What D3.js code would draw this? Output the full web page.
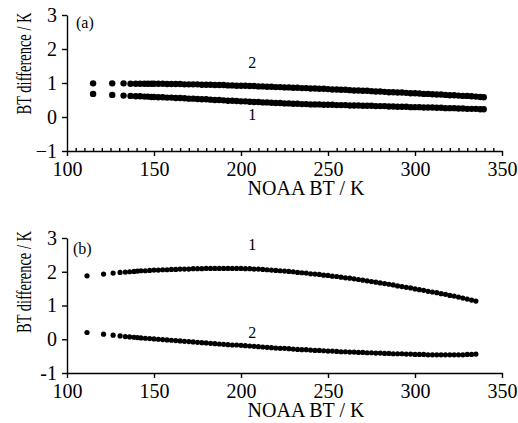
<!DOCTYPE html>
<html>
<head>
<meta charset="utf-8">
<script src="https://cdn.jsdelivr.net/npm/d3@7"></script>
<style>
body { margin: 0; background: #fff; }
svg text { font-family: "Liberation Serif", "Times New Roman", serif; fill: #000; }
</style>
</head>
<body>
<svg id="chart" width="518" height="423"></svg>
<script>
// axis ticks
var xTicks = [100, 150, 200, 250, 300, 350];
var yTicks = [-1, 0, 1, 2, 3];

// panel (a): NOAA BT (K) and BT difference (K) for curves 1 and 2
var xA = [115, 126, 132.5, 136.5, 139.5, 142, 144.5, 146.5, 148.5,
    150, 152.5, 155, 157.5, 160, 162.5, 165, 167.5, 170, 172.5, 175, 177.5, 180, 182.5, 185, 187.5, 190, 192.5, 195, 197.5, 200,
    202.5, 205, 207.5, 210, 212.5, 215, 217.5, 220, 222.5, 225,
    227.5, 230, 232.5, 235, 237.5, 240, 242.5, 245, 247.5, 250,
    252.5, 255, 257.5, 260, 262.5, 265, 267.5, 270, 272.5, 275,
    277.5, 280, 282.5, 285, 287.5, 290, 292.5, 295, 297.5, 300,
    302.5, 305, 307.5, 310, 312.5, 315, 317.5, 320, 322.5, 325, 327.5, 330, 332.5, 335, 337.5, 339.5];
var a1 = [0.68, 0.65, 0.63, 0.62, 0.61, 0.61, 0.60, 0.60, 0.59,
    0.59, 0.58, 0.58, 0.57, 0.57, 0.56, 0.56, 0.55, 0.54, 0.54, 0.53, 0.52, 0.52, 0.51, 0.50, 0.50, 0.49, 0.48, 0.48, 0.47, 0.46,
    0.46, 0.45, 0.44, 0.44, 0.43, 0.43, 0.42, 0.41, 0.41, 0.40,
    0.40, 0.39, 0.39, 0.38, 0.38, 0.37, 0.37, 0.37, 0.36, 0.36,
    0.36, 0.35, 0.35, 0.35, 0.34, 0.34, 0.34, 0.33, 0.33, 0.33,
    0.32, 0.32, 0.32, 0.31, 0.31, 0.30, 0.30, 0.30, 0.29, 0.29,
    0.29, 0.28, 0.28, 0.28, 0.27, 0.27, 0.26, 0.26, 0.26, 0.25, 0.25, 0.24, 0.24, 0.24, 0.23, 0.23];
var a2 = [0.99, 0.99, 0.99, 0.98, 0.98, 0.98, 0.98, 0.98, 0.98,
    0.98, 0.98, 0.98, 0.97, 0.97, 0.97, 0.97, 0.96, 0.96, 0.96, 0.96, 0.95, 0.95, 0.95, 0.94, 0.94, 0.94, 0.93, 0.93, 0.92, 0.92,
    0.92, 0.91, 0.91, 0.90, 0.90, 0.89, 0.89, 0.88, 0.88, 0.87,
    0.87, 0.86, 0.86, 0.85, 0.85, 0.84, 0.84, 0.83, 0.83, 0.82,
    0.81, 0.81, 0.80, 0.80, 0.79, 0.78, 0.78, 0.77, 0.77, 0.76,
    0.75, 0.75, 0.74, 0.73, 0.73, 0.72, 0.72, 0.71, 0.70, 0.70,
    0.69, 0.68, 0.68, 0.67, 0.66, 0.66, 0.65, 0.64, 0.64, 0.63, 0.62, 0.62, 0.61, 0.60, 0.59, 0.58];

// panel (b)
var xB = [111.5, 121, 126.5, 130.5, 133.5, 136, 138.5, 140.5,
    142.5, 145, 147.5, 150, 152.5, 155, 157.5, 160, 162.5, 165, 167.5, 170, 172.5, 175, 177.5, 180, 182.5, 185, 187.5, 190, 192.5, 195, 197.5, 200,
    202.5, 205, 207.5, 210, 212.5, 215, 217.5, 220, 222.5, 225,
    227.5, 230, 232.5, 235, 237.5, 240, 242.5, 245, 247.5, 250,
    252.5, 255, 257.5, 260, 262.5, 265, 267.5, 270, 272.5, 275,
    277.5, 280, 282.5, 285, 287.5, 290, 292.5, 295, 297.5, 300,
    302.5, 305, 307.5, 310, 312.5, 315, 317.5, 320, 322.5, 325,
    327.5, 330, 332.5, 335];
var b1 = [1.88, 1.93, 1.96, 1.98, 1.99, 2.00, 2.01, 2.02,
    2.03, 2.03, 2.04, 2.05, 2.05, 2.06, 2.06, 2.07, 2.07, 2.08, 2.08, 2.08, 2.09, 2.09, 2.09, 2.10, 2.10, 2.10, 2.10, 2.10, 2.10, 2.10, 2.10, 2.10,
    2.09, 2.09, 2.08, 2.08, 2.07, 2.06, 2.05, 2.04, 2.03, 2.02,
    2.01, 2.00, 1.98, 1.97, 1.96, 1.94, 1.93, 1.92, 1.90, 1.89,
    1.87, 1.86, 1.84, 1.82, 1.81, 1.79, 1.77, 1.75, 1.73, 1.71,
    1.69, 1.67, 1.65, 1.63, 1.61, 1.58, 1.56, 1.54, 1.52, 1.49,
    1.47, 1.45, 1.42, 1.40, 1.38, 1.35, 1.33, 1.30, 1.28, 1.25,
    1.22, 1.19, 1.16, 1.13];
var b2 = [0.20, 0.15, 0.12, 0.10, 0.08, 0.07, 0.06, 0.05,
    0.04, 0.03, 0.02, 0.01, 0.00, -0.01, -0.02, -0.03, -0.04, -0.05, -0.06, -0.07, -0.08, -0.09, -0.10, -0.11, -0.12, -0.13, -0.14, -0.15, -0.16, -0.17, -0.17, -0.18,
    -0.19, -0.20, -0.21, -0.22, -0.23, -0.24, -0.25, -0.26, -0.27, -0.27,
    -0.28, -0.29, -0.30, -0.31, -0.31, -0.32, -0.33, -0.33, -0.34, -0.35,
    -0.35, -0.36, -0.37, -0.37, -0.38, -0.38, -0.39, -0.39, -0.40, -0.40,
    -0.41, -0.41, -0.42, -0.42, -0.43, -0.43, -0.43, -0.44, -0.44, -0.45,
    -0.45, -0.45, -0.46, -0.46, -0.46, -0.46, -0.46, -0.46, -0.46, -0.46,
    -0.46, -0.45, -0.45, -0.44];

var svg = d3.select("#chart");

var panels = [
    {
        tag: "(a)", tagPos: [76, 28], top: 15, bottom: 151, r: 3.2, minor: true, minus: "\u22121",
        x: xA, series: [a1, a2],
        names: [{text: "1", at: [206.5, -0.1]}, {text: "2", at: [206.5, 1.43]}],
        yLabelCenter: 63.5
    },
    {
        tag: "(b)", tagPos: [73, 254], top: 238, bottom: 373, r: 2.6, minor: false, minus: "-1",
        x: xB, series: [b1, b2],
        names: [{text: "1", at: [206.5, 2.64]}, {text: "2", at: [206.5, 0.04]}],
        yLabelCenter: 282
    }
];

panels.forEach(function (p) {
    var x = d3.scaleLinear().domain([100, 350]).range([67, 502]),
        y = d3.scaleLinear().domain([-1, 3]).range([p.bottom, p.top]),
        g = svg.append("g");

    // x axis, outward major ticks
    var xAxis = g.append("g")
        .attr("transform", "translate(0," + p.bottom + ")")
        .call(d3.axisBottom(x).tickValues(xTicks).tickSize(5).tickSizeOuter(0).tickPadding(6));
    if (p.minor) {
        g.append("g")
            .attr("transform", "translate(0," + p.bottom + ")")
            .call(d3.axisBottom(x)
                .tickValues(d3.range(105, 350, 5).filter(function (v) { return v % 50 !== 0; }))
                .tickSize(-3).tickSizeOuter(0).tickFormat(""))
            .call(function (s) { s.select(".domain").remove(); });
    }

    var yAxis = g.append("g")
        .attr("transform", "translate(67,0)")
        .call(d3.axisLeft(y).tickValues(yTicks).tickSize(5).tickSizeOuter(0).tickPadding(5)
            .tickFormat(function (d) { return d < 0 ? p.minus : d; }));

    [xAxis, yAxis].forEach(function (a) {
        a.selectAll("text").attr("font-size", 20).attr("font-family", "Liberation Serif");
    });
    g.selectAll("g path, g line").attr("stroke", "#000").attr("stroke-width", 1.4);

    // axis titles
    g.append("text")
        .attr("x", 306).attr("y", p.bottom + 44)
        .attr("text-anchor", "middle").attr("font-size", 20)
        .text("NOAA BT / K");
    // the y title is narrow in the original, so squeeze it along its run
    g.append("text")
        .attr("transform", "translate(31," + p.yLabelCenter + ") rotate(-90) scale(0.69,1)")
        .attr("text-anchor", "middle").attr("font-size", 21)
        .text("BT difference / K");

    g.append("text")
        .attr("x", p.tagPos[0]).attr("y", p.tagPos[1])
        .attr("font-size", 16)
        .text(p.tag);

    // dots
    p.series.forEach(function (ys) {
        g.append("g").selectAll("circle")
            .data(p.x.map(function (v, i) { return [v, ys[i]]; }))
            .join("circle")
            .attr("cx", function (d) { return x(d[0]); })
            .attr("cy", function (d) { return y(d[1]); })
            .attr("r", p.r)
            .attr("fill", "#000");
    });

    p.names.forEach(function (n) {
        g.append("text")
            .attr("x", x(n.at[0])).attr("y", y(n.at[1]))
            .attr("text-anchor", "middle").attr("font-size", 16)
            .text(n.text);
    });
});
</script>
</body>
</html>
